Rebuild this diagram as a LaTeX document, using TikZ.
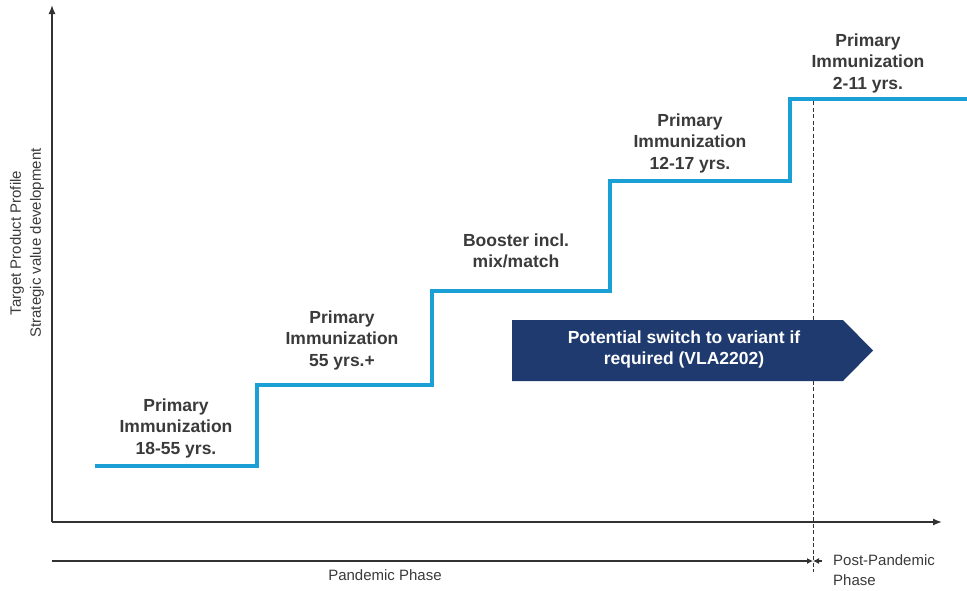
\documentclass[tikz,border=0pt]{standalone}
\usepackage{fontspec}
\setmainfont{Liberation Sans}
\usetikzlibrary{arrows.meta}
\definecolor{stepcyan}{RGB}{27,160,214}
\definecolor{navy}{RGB}{30,58,110}
\definecolor{txtgray}{RGB}{58,58,58}
\definecolor{axisgray}{RGB}{50,50,50}
\begin{document}
\begin{tikzpicture}[x=1pt,y=-1pt,
  lbl/.style={align=center,text=txtgray,font=\fontsize{17.5}{21.5}\selectfont\bfseries,inner sep=0pt},
  small/.style={text=txtgray,font=\fontsize{15}{20}\selectfont,inner sep=0pt},
  axis/.style={draw=axisgray,line width=1.4pt,-{Latex[length=9pt,width=7pt]}},
  phase/.style={draw=axisgray,line width=1.1pt,-{Latex[length=6pt,width=6pt]}},
  stair/.style={draw=stepcyan,line width=4.8pt,line join=miter}]
\useasboundingbox (0,0) rectangle (967,590);
% axes
\coordinate (O) at (52,522);
\coordinate (ytop) at (52,5);
\coordinate (xend) at (942,522);
\draw[axis] (O) -- (ytop);
\draw[axis] (O) -- (xend);
% stair line
\draw[stair] (95,466) -- (257,466) -- (257,385) -- (432,385) -- (432,291) -- (610,291) -- (610,181) -- (790,181) -- (790,99) -- (967,99);
% dashed separator
\coordinate (dtop) at (813,101);
\coordinate (dbot) at (813,572);
\draw[axisgray,line width=0.6pt,dash pattern=on 4pt off 2.5pt] (dtop) -- (dbot);
% phase line
\coordinate (pstart) at (52,561);
\coordinate (pend) at (813,561);
\coordinate (qstart) at (822,561);
\draw[phase] (pstart) -- (pend);
\draw[phase] (qstart) -- (pend);
\node[small,anchor=center] (pandemic) at (385,575) {Pandemic Phase};
\node[small,anchor=west,align=left] (post) at (833,570) {Post-Pandemic\\Phase};
% y label
\node[small,rotate=90,align=center] (ylab) at (27,243) {Target Product Profile\\Strategic value development};
% labels
\node[lbl] (l1) at (176,428) {Primary\\Immunization\\18-55 yrs.};
\node[lbl] (l2) at (342,340) {Primary\\Immunization\\55 yrs.+};
\node[lbl] (l3) at (516,251) {Booster incl.\\mix/match};
\node[lbl] (l4) at (690,143) {Primary\\Immunization\\12-17 yrs.};
\node[lbl] (l5) at (868,63) {Primary\\Immunization\\2-11 yrs.};
% banner
\fill[navy] (512,320) -- (843,320) -- (873,350.5) -- (843,381) -- (512,381) -- cycle;
\node[lbl,text=white] (banner) at (684,349.5) {Potential switch to variant if\\required (VLA2202)};
\end{tikzpicture}
\end{document}
